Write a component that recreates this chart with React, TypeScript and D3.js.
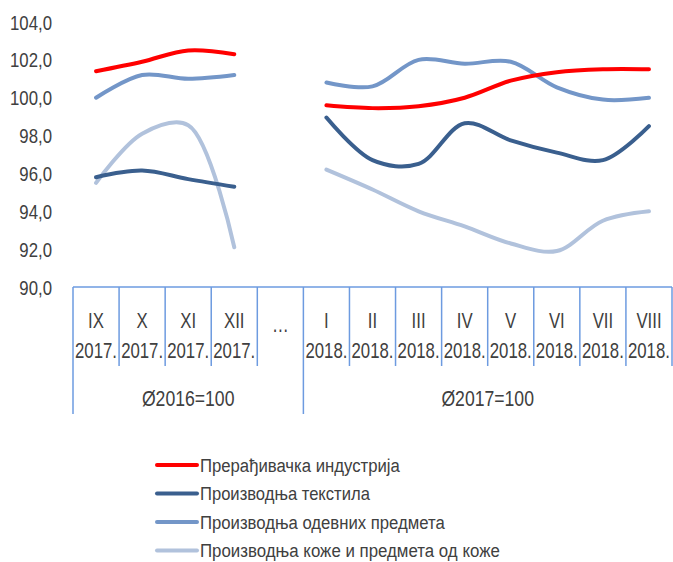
import { useEffect, useRef } from 'react'
import * as d3 from 'd3'

// categories (month / year), the 5th column is the "…" gap
const months = ['IX', 'X', 'XI', 'XII', '…', 'I', 'II', 'III', 'IV', 'V', 'VI', 'VII', 'VIII']
const years = ['2017.', '2017.', '2017.', '2017.', '', '2018.', '2018.', '2018.', '2018.', '2018.', '2018.', '2018.', '2018.']
const groups = [
  { label: 'Ø2016=100', from: 0, to: 4 },
  { label: 'Ø2017=100', from: 5, to: 12 },
]

const seriesNames = [
  'Прерађивачка индустрија',
  'Производња текстила',
  'Производња одевних предмета',
  'Производња коже и предмета од коже',
]

const manufacturing = [101.4, 101.9, 102.5, 102.3, null, 99.6, 99.45, 99.55, 100.0, 100.9, 101.35, 101.5, 101.5]
const textiles = [95.8, 96.15, 95.7, 95.3, null, 98.95, 96.7, 96.5, 98.65, 97.75, 97.1, 96.7, 98.5]
const clothing = [100.0, 101.2, 101.0, 101.2, null, 100.8, 100.6, 102.0, 101.8, 101.9, 100.55, 99.9, 100.0]
const leather = [95.5, 98.1, 98.55, 92.1, null, 96.2, 95.15, 94.0, 93.2, 92.3, 91.9, 93.5, 94.0]

const yTicks = [90, 92, 94, 96, 98, 100, 102, 104]

const colors = ['#ff0000', '#3a5f8e', '#7396c8', '#b1c2dc']
const legendWidths = [200, 170, 245, 300]
const FONT = '"Liberation Sans", Arial, sans-serif'

// squeeze a text node horizontally around its anchor x (the original uses a condensed face)
function squeeze(node: SVGTextElement, k: number) {
  const ax = +(node.getAttribute('x') || 0)
  node.setAttribute('transform', `translate(${ax * (1 - k)},0) scale(${k},1)`)
}

export default function App() {
  const svgRef = useRef<SVGSVGElement>(null)

  useEffect(() => {
    if (!svgRef.current) return
    const svg = d3.select(svgRef.current)
    svg.selectAll('*').remove()

    const left = 73
    const right = 672
    const top = 22
    const axisY = 287

    const x = d3.scaleBand<number>()
      .domain(months.map((_, i) => i))
      .range([left, right])
    const cx = (i: number) => x(i)! + x.bandwidth() / 2

    const y = d3.scaleLinear().domain([90, 104]).range([axisY, top])

    // y tick labels
    const ticks = svg.append('g')
      .selectAll('text')
      .data(yTicks)
      .enter()
      .append('text')
      .attr('x', 52)
      .attr('y', d => y(d))
      .attr('dy', '0.36em')
      .attr('text-anchor', 'end')
      .attr('font-family', FONT)
      .attr('font-size', 21)
      .attr('fill', '#404040')
      .text(d => d3.format('.1f')(d).replace('.', ','))
    const tickNodes = ticks.nodes() as SVGTextElement[]
    const kTick = 42 / tickNodes[tickNodes.length - 1].getComputedTextLength()
    tickNodes.forEach(n => squeeze(n, kTick))

    // lines
    const allSeries = [manufacturing, textiles, clothing, leather]
    const line = d3.line<number | null>()
      .defined(d => d !== null)
      .x((_, i) => cx(i))
      .y(d => y(d as number))
      .curve(d3.curveCatmullRom.alpha(0.5))

    // draw back to front so red is on top
    const order = [3, 1, 2, 0]
    order.forEach(k => {
      svg.append('path')
        .datum(allSeries[k])
        .attr('d', line)
        .attr('fill', 'none')
        .attr('stroke', colors[k])
        .attr('stroke-width', 4)
        .attr('stroke-linecap', 'round')
    })

    // category table
    const border = '#6d9be0'
    const monthBottom = 366
    const groupBottom = 414
    const table = svg.append('g').attr('stroke', border).attr('stroke-width', 1.5)
    table.append('line')
      .attr('x1', left).attr('x2', right)
      .attr('y1', axisY).attr('y2', axisY)
    const edges = d3.range(months.length + 1).map(i => i < months.length ? x(i)! : right)
    edges.forEach((ex, i) => {
      const full = i === 0 || i === 5
      table.append('line')
        .attr('x1', ex).attr('x2', ex)
        .attr('y1', axisY).attr('y2', full ? groupBottom : monthBottom)
    })

    const labels = svg.append('g')
      .attr('font-family', FONT)
      .attr('font-size', 22)
      .attr('fill', '#404040')
      .attr('text-anchor', 'middle')
    const probe = labels.append('text').text('2017.')
    const kCat = 42 / (probe.node() as SVGTextElement).getComputedTextLength()
    probe.remove()

    months.forEach((m, i) => {
      const t = labels.append('text')
        .attr('x', cx(i)).attr('y', i === 4 ? 324 : 320).attr('dy', '0.36em')
        .text(m)
      squeeze(t.node() as SVGTextElement, kCat)
      if (years[i]) {
        const yt = labels.append('text')
          .attr('x', cx(i)).attr('y', 350).attr('dy', '0.36em')
          .text(years[i])
        squeeze(yt.node() as SVGTextElement, kCat)
      }
    })
    groups.forEach(g => {
      const gx = (x(g.from)! + (g.to === months.length - 1 ? right : x(g.to)! + x.bandwidth())) / 2
      const t = labels.append('text')
        .attr('x', gx).attr('y', 398).attr('dy', '0.36em')
        .text(g.label)
      squeeze(t.node() as SVGTextElement, kCat * 1.05)
    })

    // legend
    const legend = svg.append('g')
    seriesNames.forEach((name, i) => {
      const ly = 465 + i * 28.5
      legend.append('line')
        .attr('x1', 157).attr('x2', 197)
        .attr('y1', ly).attr('y2', ly)
        .attr('stroke', colors[i])
        .attr('stroke-width', 4)
        .attr('stroke-linecap', 'round')
      const t = legend.append('text')
        .attr('x', 200).attr('y', ly).attr('dy', '0.36em')
        .attr('font-family', FONT)
        .attr('font-size', 19)
        .attr('fill', '#404040')
        .text(name)
      const node = t.node() as SVGTextElement
      squeeze(node, legendWidths[i] / node.getComputedTextLength())
    })
  }, [])

  return (
    <svg
      ref={svgRef}
      width={673}
      height={562}
      style={{ position: 'absolute', left: 0, top: 0, background: '#fff' }}
    />
  )
}
